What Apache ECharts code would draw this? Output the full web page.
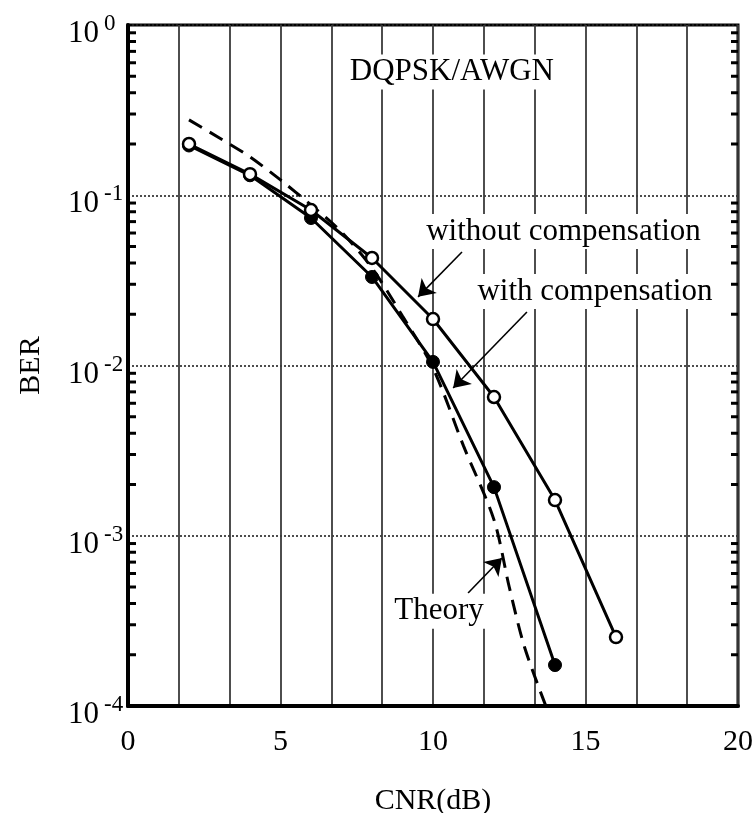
<!DOCTYPE html>
<html>
<head>
<meta charset="utf-8">
<script src="https://cdn.jsdelivr.net/npm/echarts@6/dist/echarts.min.js"></script>
<style>
  html, body { margin: 0; padding: 0; background: #fff; }
  #chart { width: 755px; height: 813px; }
</style>
</head>
<body>
<div id="chart"></div>
<script>
// BER versus CNR for DQPSK over an AWGN channel
const FONT = '"Liberation Serif", "Times New Roman", serif';

const cnrWithout = [2, 4, 6, 8, 10, 12, 14, 16];
const berWithout = [0.200, 0.133, 0.0819, 0.0428, 0.01875, 0.00653, 0.00162, 0.000254];

const cnrWith = [2, 4, 6, 8, 10, 12, 14];
const berWith = [0.196, 0.131, 0.0735, 0.0331, 0.0105, 0.00193, 0.000174];

const cnrTheory = [2, 3, 4, 5, 6, 7, 8, 9, 10, 11, 12, 12.5, 13, 13.7];
const berTheory = [0.277, 0.217, 0.168, 0.123, 0.0877, 0.0608, 0.0374, 0.0195, 0.00967, 0.00337, 0.00124, 0.0005, 0.000222, 0.0001];

// x tick labels (grid lines run every 5/3 dB, labels every 5 dB)
const xTickLabels = [0, 5, 10, 15, 20];
const xGridStep = 20 / 12;

// log-axis minor ticks: 2..9 in every decade
const minorMultipliers = [2, 3, 4, 5, 6, 7, 8, 9];
const minorDecades = [1e-4, 1e-3, 1e-2, 1e-1];

// text annotations and their arrows (data coordinates)
const noteTexts = ['DQPSK/AWGN', 'without compensation', 'with compensation', 'Theory'];
const noteX = [10.62, 14.28, 15.31, 10.2];
const noteY = [0.53, 0.0612, 0.0272, 3.6e-4];

const arrowFromX = [10.95, 13.08, 11.15];
const arrowFromY = [0.0464, 0.0206, 4.61e-4];
const arrowToX = [9.51, 10.66, 12.26];
const arrowToY = [0.0253, 0.00738, 7.4e-4];

const zip = (xs, ys) => xs.map((x, i) => [x, ys[i]]);
const minorValues = [];
minorDecades.forEach(d => minorMultipliers.forEach(m => minorValues.push([0, m * d])));

const chart = echarts.init(document.getElementById('chart'), null, { renderer: 'canvas' });

const option = {
  animation: false,
  backgroundColor: '#fff',
  grid: {
    left: 128, right: 17, top: 25, bottom: 107,
    outerBoundsMode: 'none',
    containLabel: false,
    show: true, borderColor: '#000', borderWidth: 3, backgroundColor: 'transparent'
  },
  xAxis: {
    type: 'value',
    min: 0, max: 20, interval: xGridStep,
    name: 'CNR(dB)',
    nameLocation: 'middle',
    nameGap: 80,
    nameTextStyle: { fontFamily: FONT, fontSize: 30, color: '#000' },
    axisLine: { show: true, lineStyle: { color: '#000', width: 4 } },
    axisTick: { show: false },
    axisLabel: {
      margin: 21,
      fontFamily: FONT, fontSize: 30, color: '#000',
      formatter: v => {
        const hit = xTickLabels.find(t => Math.abs(t - v) < 1e-6);
        return hit === undefined ? '' : String(hit);
      }
    },
    splitLine: { show: true, lineStyle: { color: '#3a3a3a', width: 1.8, type: 'solid' } }
  },
  yAxis: {
    type: 'log',
    logBase: 10,
    min: 1e-4, max: 1,
    name: 'BER',
    nameLocation: 'middle',
    nameGap: 82,
    nameRotate: 90,
    nameTextStyle: { fontFamily: FONT, fontSize: 30, color: '#000' },
    axisLine: { show: true, lineStyle: { color: '#000', width: 4 } },
    axisTick: { show: false },
    axisLabel: {
      margin: 60,
      align: 'left',
      padding: [18, 0, 0, 0],
      color: '#000',
      formatter: v => '{b|10}{e|' + Math.round(Math.log10(v)) + '}',
      rich: {
        b: { fontFamily: FONT, fontSize: 31, color: '#000', lineHeight: 30 },
        e: { fontFamily: FONT, fontSize: 23, color: '#000', lineHeight: 23, padding: [0, 0, 20, 5] }
      }
    },
    splitLine: { show: true, lineStyle: { color: '#222', width: 1.6, type: [2, 2] } }
  },
  series: [
    {
      name: 'minor ticks',
      type: 'custom',
      silent: true,
      z: 6,
      clip: false,
      data: minorValues,
      renderItem: (params, api) => {
        const v = api.value(1);
        const pl = api.coord([0, v]);
        const pr = api.coord([20, v]);
        return {
          type: 'group',
          children: [
            { type: 'line', shape: { x1: pl[0], y1: pl[1], x2: pl[0] + 8, y2: pl[1] }, style: { stroke: '#000', lineWidth: 3 } },
            { type: 'line', shape: { x1: pr[0] - 7, y1: pr[1], x2: pr[0], y2: pr[1] }, style: { stroke: '#000', lineWidth: 3 } }
          ]
        };
      }
    },
    {
      name: 'Theory',
      type: 'line',
      data: zip(cnrTheory, berTheory),
      showSymbol: false,
      symbol: 'none',
      smooth: 0.3,
      z: 3,
      lineStyle: { color: '#000', width: 3, type: [15, 9] },
      markLine: {
        silent: true,
        symbol: ['none', 'arrow'],
        symbolSize: 16,
        label: { show: false },
        lineStyle: { color: '#000', width: 1.6, type: 'solid' },
        emphasis: { disabled: true },
        data: arrowFromX.map((x, i) => [
          { coord: [x, arrowFromY[i]] },
          { coord: [arrowToX[i], arrowToY[i]] }
        ])
      },
      markPoint: {
        silent: true,
        symbol: 'circle',
        symbolSize: 1,
        itemStyle: { color: 'rgba(0,0,0,0)' },
        label: {
          show: true,
          position: 'inside',
          formatter: '{b}',
          fontFamily: FONT, fontSize: 31, color: '#000',
          backgroundColor: '#fff',
          padding: [2, 4]
        },
        data: noteTexts.map((t, i) => ({ name: t, coord: [noteX[i], noteY[i]] }))
      }
    },
    {
      name: 'with compensation',
      type: 'line',
      data: zip(cnrWith, berWith),
      symbol: 'circle',
      symbolSize: 13,
      z: 4,
      lineStyle: { color: '#000', width: 3 },
      itemStyle: { color: '#000', borderColor: '#000', borderWidth: 1 }
    },
    {
      name: 'without compensation',
      type: 'line',
      data: zip(cnrWithout, berWithout),
      symbol: 'circle',
      symbolSize: 12,
      z: 5,
      lineStyle: { color: '#000', width: 3 },
      itemStyle: { color: '#fff', borderColor: '#000', borderWidth: 2.5 }
    }
  ]
};

chart.setOption(option);
</script>
</body>
</html>
